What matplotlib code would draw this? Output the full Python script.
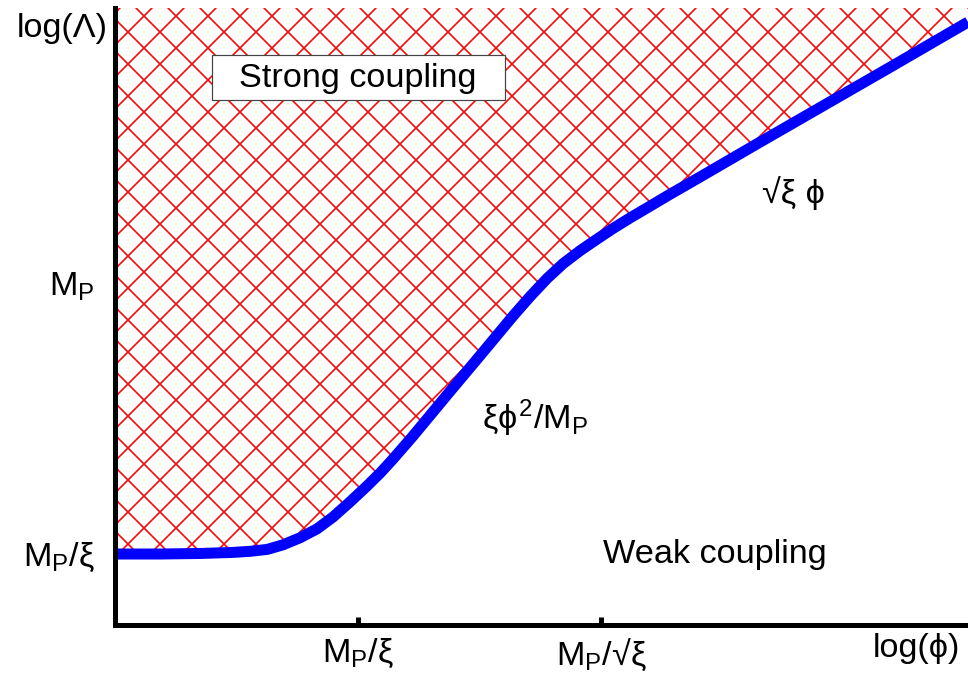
import numpy as np
import matplotlib
matplotlib.use("Agg")
import matplotlib.pyplot as plt
from matplotlib.patches import Rectangle

dpi = 96
pt = 72 / dpi  # points per pixel

plt.rcParams["font.family"] = ["Liberation Sans", "DejaVu Sans"]
plt.rcParams["mathtext.fontset"] = "custom"
plt.rcParams["mathtext.rm"] = "Liberation Sans"
plt.rcParams["mathtext.it"] = "Liberation Sans"
plt.rcParams["mathtext.bf"] = "Liberation Sans:bold"
plt.rcParams["hatch.linewidth"] = 1.6 * pt

# curve (x: log(phi), y: log(Lambda), arbitrary units)
log_phi = [0.0, 0.185, 0.35, 0.486, 0.556, 0.626, 0.691, 0.761, 0.831,
           0.897, 0.967, 1.037, 1.091, 1.144, 1.226, 1.366, 1.502, 1.638,
           1.708, 1.778, 1.844, 1.914, 1.984, 2.049, 2.119, 2.202, 2.284,
           2.379, 2.654, 2.930, 3.202, 3.510]
log_lam = [0.996, 0.996, 0.998, 1.002, 1.006, 1.013, 1.030, 1.056, 1.089,
           1.133, 1.189, 1.248, 1.296, 1.348, 1.433, 1.585, 1.731, 1.878,
           1.950, 2.017, 2.072, 2.120, 2.163, 2.202, 2.241, 2.285, 2.329,
           2.378, 2.522, 2.665, 2.806, 2.967]

xticks = [1, 2]
xticklabels = [r"$\mathrm{M_P}/\xi$", "$\\mathrm{M_P}/\u221a\\xi$"]
yticks = [1, 2]
yticklabels = [r"$\mathrm{M_P}/\xi$", r"$\mathrm{M_P}$"]

xmin, xmax = 0.0, 3.51
ymin, ymax = 0.733, 3.019

fs = 34.3 * pt

fig = plt.figure(figsize=(968 / dpi, 675 / dpi), dpi=dpi)
ax = fig.add_axes([115 / 968, 50 / 675, 1 - 115 / 968, 617 / 675])

x = np.array(log_phi)
y = np.array(log_lam)

ax.fill_between(x, y, ymax, facecolor="white", edgecolor="red", hatch="x",
                linewidth=0)
ax.plot(x, y, color="#0000ff", lw=11 * pt, solid_capstyle="butt",
        solid_joinstyle="round")

ax.set_xlim(xmin, xmax)
ax.set_ylim(ymin, ymax)

for s in ["top", "right"]:
    ax.spines[s].set_visible(False)
for s in ["left", "bottom"]:
    ax.spines[s].set_linewidth(5 * pt)
    ax.spines[s].set_zorder(5)

ax.set_xticks(xticks)
ax.set_xticklabels(xticklabels)
ax.set_yticks(yticks)
ax.set_yticklabels(yticklabels)
ax.tick_params(axis="x", direction="in", length=8 * pt, width=5 * pt,
               pad=12 * pt, labelsize=fs)
ax.tick_params(axis="y", length=0, pad=20 * pt, labelsize=fs)

fig.add_artist(Rectangle((212 / 968, 1 - 100 / 675), 293 / 968, 45 / 675,
                         transform=fig.transFigure, facecolor="white",
                         edgecolor="#444444", linewidth=1.2 * pt, zorder=6))
fig.text(358 / 968, 1 - 78 / 675, "Strong coupling", fontsize=fs,
         ha="center", va="center", zorder=7)

fig.text(715 / 968, 1 - 555 / 675, "Weak coupling", fontsize=fs,
         ha="center", va="center")
fig.text(535 / 968, 1 - 418 / 675, r"$\xi\phi^2/\mathrm{M_P}$", fontsize=fs,
         ha="center", va="center")
fig.text(793 / 968, 1 - 193 / 675, "\u221a\u03be \u03d5", fontsize=fs,
         ha="center", va="center")
fig.text(108 / 968, 1 - 28 / 675, "log(\u039b)", fontsize=fs,
         ha="right", va="center")
fig.text(960 / 968, 1 - 648 / 675, "log(\u03d5)", fontsize=fs,
         ha="right", va="center")

fig.savefig("out.png", dpi=dpi)
